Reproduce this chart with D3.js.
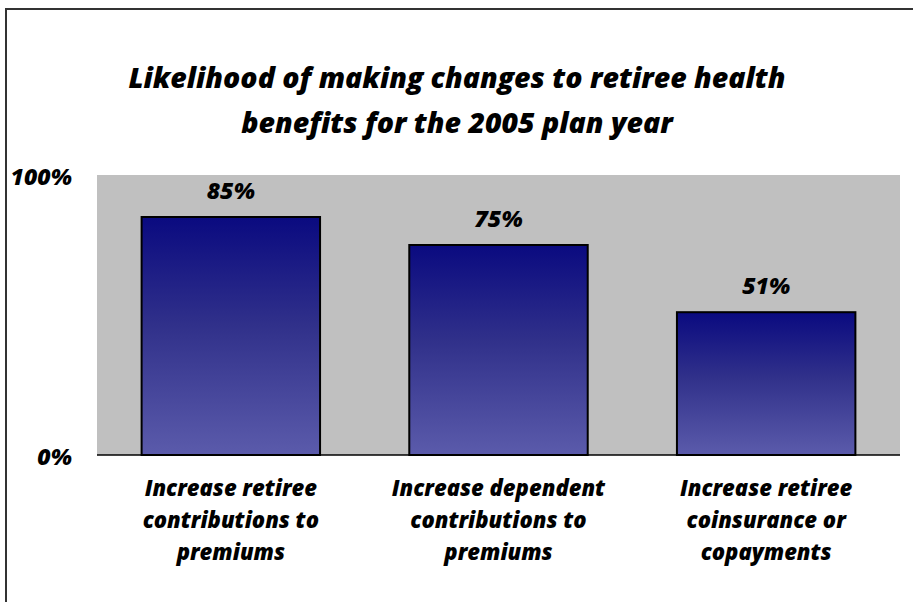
<!DOCTYPE html>
<html>
<head>
<meta charset="utf-8">
<script src="https://cdn.jsdelivr.net/npm/d3@7"></script>
<style>
  body { margin: 0; background: #fff; }
  text { font-family: "Open Sans", "Noto Sans", sans-serif; font-weight: 800; font-style: italic; fill: #000; }
</style>
</head>
<body>
<div id="chart"></div>
<script>
// chart data
const categories = [
    ['Increase retiree', 'contributions to', 'premiums'],
    ['Increase dependent', 'contributions to', 'premiums'],
    ['Increase retiree', 'coinsurance or', 'copayments']
];
const values = [85, 75, 51];
const yTicks = [0, 100];
const titleLines = ['Likelihood of making changes to retiree health', 'benefits for the 2005 plan year'];

const width = 913, height = 602;
const plot = { left: 97, right: 900, top: 175, bottom: 455 };

const svg = d3.select('#chart').append('svg')
    .attr('width', width)
    .attr('height', height);

// outer frame (clipped by the window on right and bottom)
svg.append('rect')
    .attr('x', 6).attr('y', 9)
    .attr('width', 940).attr('height', 640)
    .attr('fill', 'none')
    .attr('stroke', '#333')
    .attr('stroke-width', 2);

const defs = svg.append('defs');
const grad = defs.append('linearGradient')
    .attr('id', 'barGrad')
    .attr('x1', 0).attr('y1', 0).attr('x2', 0).attr('y2', 1);
grad.append('stop').attr('offset', '0%').attr('stop-color', '#0a0a80');
grad.append('stop').attr('offset', '45%').attr('stop-color', '#30308a');
grad.append('stop').attr('offset', '100%').attr('stop-color', '#5b5bab');

// title
svg.append('text')
    .attr('x', 457).attr('y', 88)
    .attr('text-anchor', 'middle')
    .style('font-size', '28.5px')
    .selectAll('tspan')
    .data(titleLines)
    .enter()
    .append('tspan')
    .attr('x', 457)
    .attr('dy', (d, i) => i === 0 ? 0 : 45)
    .text(d => d);

const x = d3.scaleBand()
    .domain(d3.range(categories.length))
    .range([plot.left, plot.right])
    .paddingInner(1 / 3)
    .paddingOuter(1 / 6);

const y = d3.scaleLinear()
    .domain([0, 100])
    .range([plot.bottom, plot.top]);

// plot background
svg.append('rect')
    .attr('x', plot.left).attr('y', plot.top)
    .attr('width', plot.right - plot.left)
    .attr('height', plot.bottom - plot.top)
    .attr('fill', '#c0c0c0');

// bars
svg.selectAll('rect.bar')
    .data(values)
    .enter()
    .append('rect')
    .attr('class', 'bar')
    .attr('x', (d, i) => x(i))
    .attr('y', d => y(d))
    .attr('width', x.bandwidth())
    .attr('height', d => y(0) - y(d))
    .attr('fill', 'url(#barGrad)')
    .attr('stroke', '#000')
    .attr('stroke-width', 2);

// value labels
svg.selectAll('text.val')
    .data(values)
    .enter()
    .append('text')
    .attr('class', 'val')
    .attr('x', (d, i) => x(i) + x.bandwidth() / 2)
    .attr('y', d => y(d) - 18)
    .attr('text-anchor', 'middle')
    .style('font-size', '23px')
    .text(d => d + '%');

// axis line
svg.append('line')
    .attr('x1', plot.left).attr('x2', plot.right)
    .attr('y1', plot.bottom).attr('y2', plot.bottom)
    .attr('stroke', '#000')
    .attr('stroke-width', 1.5);

// y tick labels
svg.selectAll('text.ytick')
    .data(yTicks)
    .enter()
    .append('text')
    .attr('class', 'ytick')
    .attr('x', 72)
    .attr('y', d => y(d) + 10)
    .attr('text-anchor', 'end')
    .style('font-size', '23px')
    .text(d => d + '%');

// category labels
const cat = svg.selectAll('text.cat')
    .data(categories)
    .enter()
    .append('text')
    .attr('class', 'cat')
    .attr('text-anchor', 'middle')
    .attr('y', 496)
    .style('font-size', '22px');

cat.selectAll('tspan')
    .data((d, i) => d.map(line => ({ line, i })))
    .enter()
    .append('tspan')
    .attr('x', d => x(d.i) + x.bandwidth() / 2)
    .attr('dy', (d, j) => j === 0 ? 0 : 32)
    .text(d => d.line);
</script>
</body>
</html>
